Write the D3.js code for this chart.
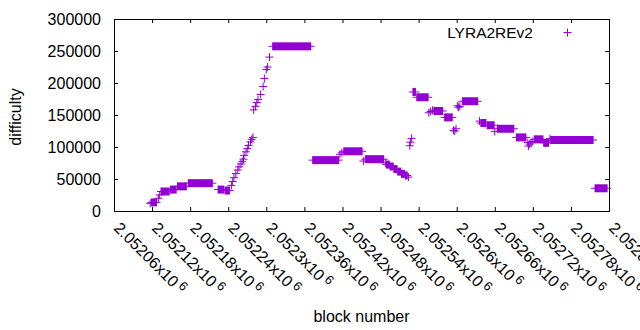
<!DOCTYPE html>
<html><head><meta charset="utf-8">
<script src="https://cdn.jsdelivr.net/npm/d3@7"></script>
<style>body{margin:0;background:#fff}svg{display:block;background:#fff}text{font-family:"Liberation Sans",Arial,sans-serif;fill:#000}</style>
</head><body><svg id="c" width="640" height="330"></svg>
<script>
// ---- data ----
const seriesName = "LYRA2REv2";
const xTicks = [2052060,2052120,2052180,2052240,2052300,2052360,2052420,2052480,2052540,2052600,2052660,2052720,2052780,2052840];
const yTicks = [0,50000,100000,150000,200000,250000,300000];
// runs of consecutive blocks whose difficulty stays (about) constant: [firstBlock, lastBlock, difficulty]
const runs = [
 [2052119,2052127,13500],[2052134,2052147,30500],[2052149,2052158,33500],[2052160,2052174,38500],
 [2052177,2052215,43500],[2052224,2052233,33500],[2052235,2052242,32000],[2052310,2052370,257300],
 [2052373,2052414,79500],[2052422,2052451,93300],[2052456,2052485,81000],[2052489,2052494,72500],
 [2052495,2052500,69500],[2052501,2052506,65500],[2052507,2052512,61500],[2052513,2052518,58000],
 [2052519,2052522,55500],[2052531,2052535,186000],[2052537,2052555,177700],[2052564,2052578,156300],
 [2052581,2052593,146300],[2052609,2052633,171500],[2052638,2052646,137500],[2052648,2052659,134000],
 [2052664,2052690,128500],[2052694,2052709,115000],[2052722,2052736,112000],[2052737,2052745,106500],
 [2052748,2052815,110900],[2052818,2052837,35500]
];
// single blocks: [block, difficulty]
const points = [
 [2052117,12000],[2052130,20000],[2052132,25000],
 [2052245,40000],[2052247,46000],[2052249,52000],[2052252,58500],[2052255,64000],[2052257,69000],
 [2052260,73500],[2052262,77500],[2052264,81000],[2052265,87000],[2052268,92500],[2052270,97500],
 [2052272,102500],[2052275,108000],[2052277,112000],[2052279,115000],
 [2052280,158000],[2052283,163500],[2052285,169500],[2052287,174000],[2052291,182000],[2052295,194500],
 [2052297,207000],[2052300,221000],[2052302,225000],[2052305,240500],
 [2052416,88500],[2052419,91000],[2052453,78000],[2052488,75000],[2052524,53000],
 [2052526,102000],[2052527,107500],[2052529,113500],
 [2052556,153500],[2052559,155500],[2052562,157500],
 [2052595,126000],[2052597,125000],[2052599,128500],
 [2052601,164500],[2052603,162000],[2052605,163500],
 [2052636,140500],[2052660,124000],
 [2052712,107000],[2052713,101500],[2052715,104500],[2052717,106500],[2052719,108500],
 [2052747,113000]
];

// ---- drawing ----
const color = "#9400d3";
const FS = 16;
const svg = d3.select("#c");
const x = d3.scaleLinear().domain([xTicks[0], xTicks[xTicks.length-1]]).range([114, 609]);
const y = d3.scaleLinear().domain([0, 300000]).range([211, 19]);
const [x0, x1] = x.range(), [yb, yt] = y.range();

function axisStyle(g){ g.select(".domain").remove(); g.selectAll("line").attr("stroke","#000"); g.selectAll("text").remove(); }
svg.append("g").attr("transform",`translate(0,${yb})`).call(d3.axisBottom(x).tickValues(xTicks).tickSizeInner(-4).tickSizeOuter(0)).call(axisStyle);
svg.append("g").attr("transform",`translate(0,${yt})`).call(d3.axisTop(x).tickValues(xTicks).tickSizeInner(-4).tickSizeOuter(0)).call(axisStyle);
svg.append("g").attr("transform",`translate(${x0},0)`).call(d3.axisLeft(y).tickValues(yTicks).tickSizeInner(-4).tickSizeOuter(0)).call(axisStyle);
svg.append("g").attr("transform",`translate(${x1},0)`).call(d3.axisRight(y).tickValues(yTicks).tickSizeInner(-4).tickSizeOuter(0)).call(axisStyle);
svg.append("rect").attr("x",x0+0.5).attr("y",yt+0.5).attr("width",x1-x0).attr("height",yb-yt)
  .attr("fill","none").attr("stroke","#000").attr("stroke-width",1);

// y tick labels
svg.append("g").selectAll("text").data(yTicks).join("text")
  .attr("x", x0-13).attr("y", d=>y(d)+0.5).attr("dy","0.36em").attr("text-anchor","end")
  .attr("font-size",FS).text(d=>d3.format("d")(d));

// x tick labels (rotated, with superscript exponent)
const fmt = v => String(+(v/1e6).toPrecision(6));
const xl = svg.append("g").selectAll("text").data(xTicks).join("text")
  .attr("transform", d=>`translate(${x(d)-1},${yb+18}) rotate(45)`)
  .attr("font-size",FS);
xl.append("tspan").text(d=>fmt(d)+"x10");
xl.append("tspan").attr("font-size",FS*0.8).attr("dx",3).attr("dy",-5).text("6");

// axis titles
svg.append("text").attr("x",(x0+x1)/2).attr("y",322).attr("text-anchor","middle").attr("font-size",FS).text("block number");
svg.append("text").attr("transform",`translate(21,${(yb+yt)/2+2}) rotate(-90)`).attr("text-anchor","middle").attr("font-size",FS).text("difficulty");

const plusPath = (px,py) => `M${px-4},${py}h8M${px},${py-4}v8`;
const marks = svg.append("g");
// runs: union of + markers over consecutive blocks
marks.selectAll("rect").data(runs).join("rect")
  .attr("x", d=>x(d[0])-0.5).attr("width", d=>x(d[1])-x(d[0])+1)
  .attr("y", d=>y(d[2])-4).attr("height",8).attr("fill",color);
marks.selectAll("path.run").data(runs).join("path").attr("class","run")
  .attr("d", d=>`M${x(d[0])-4},${y(d[2])}H${x(d[1])+4}`).attr("stroke",color).attr("stroke-width",1).attr("fill","none");
marks.selectAll("path.pt").data(points).join("path").attr("class","pt")
  .attr("d", d=>plusPath(x(d[0]), y(d[1]))).attr("stroke",color).attr("stroke-width",1).attr("fill","none");

// legend
svg.append("text").attr("x",533).attr("y",37.5).attr("text-anchor","end").attr("font-size",15.5).text(seriesName);
svg.append("path").attr("d",plusPath(567.5,32.5)).attr("stroke",color).attr("stroke-width",1);
</script></body></html>
